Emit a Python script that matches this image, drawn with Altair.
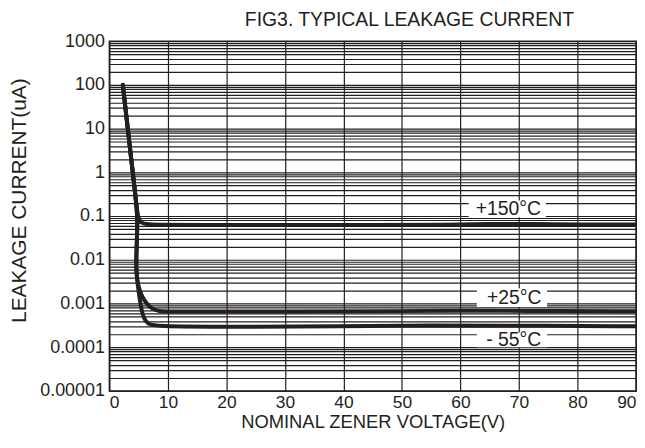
import altair as alt
import pandas as pd

# ---- data ----
x150 = [2.3, 3.0, 3.7, 4.3, 4.8, 5.1, 5.5, 6.2, 8.0, 15, 30, 45, 58, 65, 72, 80, 90]
y150 = [100, 15, 2.2, 0.45, 0.11, 0.08, 0.07, 0.065, 0.063, 0.062, 0.062, 0.062, 0.063, 0.066, 0.066, 0.064, 0.064]

x25 = [2.3, 3.0, 3.7, 4.3, 4.8, 4.75, 4.6, 4.6, 4.9, 5.5, 6.3, 7.3, 8.5, 10, 30, 50, 60, 70, 90]
y25 = [100, 15, 2.2, 0.45, 0.11, 0.04, 0.012, 0.005, 0.0026, 0.0015, 0.001, 0.00075, 0.00066, 0.00065, 0.00065, 0.00067, 0.00068, 0.00068, 0.00066]

x55 = [2.3, 3.0, 3.7, 4.3, 4.8, 4.75, 4.6, 4.6, 4.9, 5.2, 5.5, 5.9, 6.6, 7.6, 20, 40, 55, 70, 90]
y55 = [100, 15, 2.2, 0.45, 0.11, 0.04, 0.012, 0.005, 0.0024, 0.0012, 0.0007, 0.00045, 0.00034, 0.0003, 0.00029, 0.0003, 0.00032, 0.00031, 0.0003]

series_names = ["+150°C", "+25°C", "-55°C"]

label_text = ["+150°C", "+25°C", "- 55°C"]
label_x = [68.2, 69.2, 69.1]
label_y = [0.147, 0.00136, 0.000146]
box_x1 = [61.4, 62.8, 62.8]
box_x2 = [74.6, 74.8, 74.8]
box_y1 = [0.0942, 0.00083, 0.0001]
box_y2 = [0.228, 0.00223, 0.000216]

x_ticks = list(range(0, 95, 5))
y_grid = [m * 10.0 ** e for e in range(-5, 3) for m in range(1, 10)] + [1000.0]

rows = []
for name, xs, ys in zip(series_names, [x150, x25, x55], [y150, y25, y55]):
    for i, (a, b) in enumerate(zip(xs, ys)):
        rows.append({"series": name, "idx": i, "v": a, "i": b})
curves = pd.DataFrame(rows)

labels = pd.DataFrame({"t": label_text, "x": label_x, "y": label_y,
                       "x1": box_x1, "x2": box_x2, "y1": box_y1, "y2": box_y2})

FONT = "Liberation Sans"
INK = "#231f20"

xscale = alt.Scale(domain=[0, 90], nice=False, zero=False)
yscale = alt.Scale(type="log", domain=[0.00001, 1000], nice=False)

xaxis = alt.Axis(values=x_ticks, title="NOMINAL ZENER VOLTAGE(V)",
                 labelExpr="datum.value % 10 == 0 ? datum.label : ''",
                 grid=True, ticks=False, domain=False, labelPadding=3,
                 labelFontSize=17.5, titlePadding=1, titleFontSize=18.5)
yaxis = alt.Axis(values=y_grid, title="LEAKAGE CURRENT(uA)",
                 labelExpr="abs(log(datum.value)/LN10 - round(log(datum.value)/LN10)) < 0.000001 ? format(datum.value, '.5~f') : ''",
                 grid=True, ticks=False, domain=False, labelPadding=5,
                 labelFontSize=18, titlePadding=10, titleFontSize=21, titleY=160)

lines = alt.Chart(curves).mark_line(color=INK, strokeWidth=4, interpolate="basis",
                                     strokeCap="round", strokeJoin="round").encode(
    x=alt.X("v:Q", scale=xscale, axis=xaxis),
    y=alt.Y("i:Q", scale=yscale, axis=yaxis),
    detail="series:N",
    order=alt.Order("idx:Q"),
)

boxes = alt.Chart(labels).mark_rect(color="white", opacity=1).encode(
    x="x1:Q", x2="x2:Q", y="y1:Q", y2="y2:Q")

texts = alt.Chart(labels).mark_text(font=FONT, fontSize=19.5, color=INK,
                                    align="center", baseline="middle").encode(
    x="x:Q", y="y:Q", text="t:N")

chart = alt.layer(boxes, lines, texts).properties(
    width=530, height=352,
    autosize=alt.AutoSizeParams(type="none"),
    padding={"left": 102, "top": 32, "right": 1, "bottom": 41},
    title=alt.TitleParams("FIG3. TYPICAL LEAKAGE CURRENT", font=FONT, fontSize=19.5,
                          fontWeight="normal", color=INK, anchor="middle", dx=37,
                          offset=2),
).configure_view(stroke=INK, strokeWidth=1.5).configure_axis(
    gridColor=INK, gridWidth=1.2, gridOpacity=1,
    labelFont=FONT, labelColor=INK,
    titleFont=FONT, titleColor=INK, titleFontWeight="normal",
)

chart.save("out.html", embed_options={"renderer": "svg", "actions": False})
